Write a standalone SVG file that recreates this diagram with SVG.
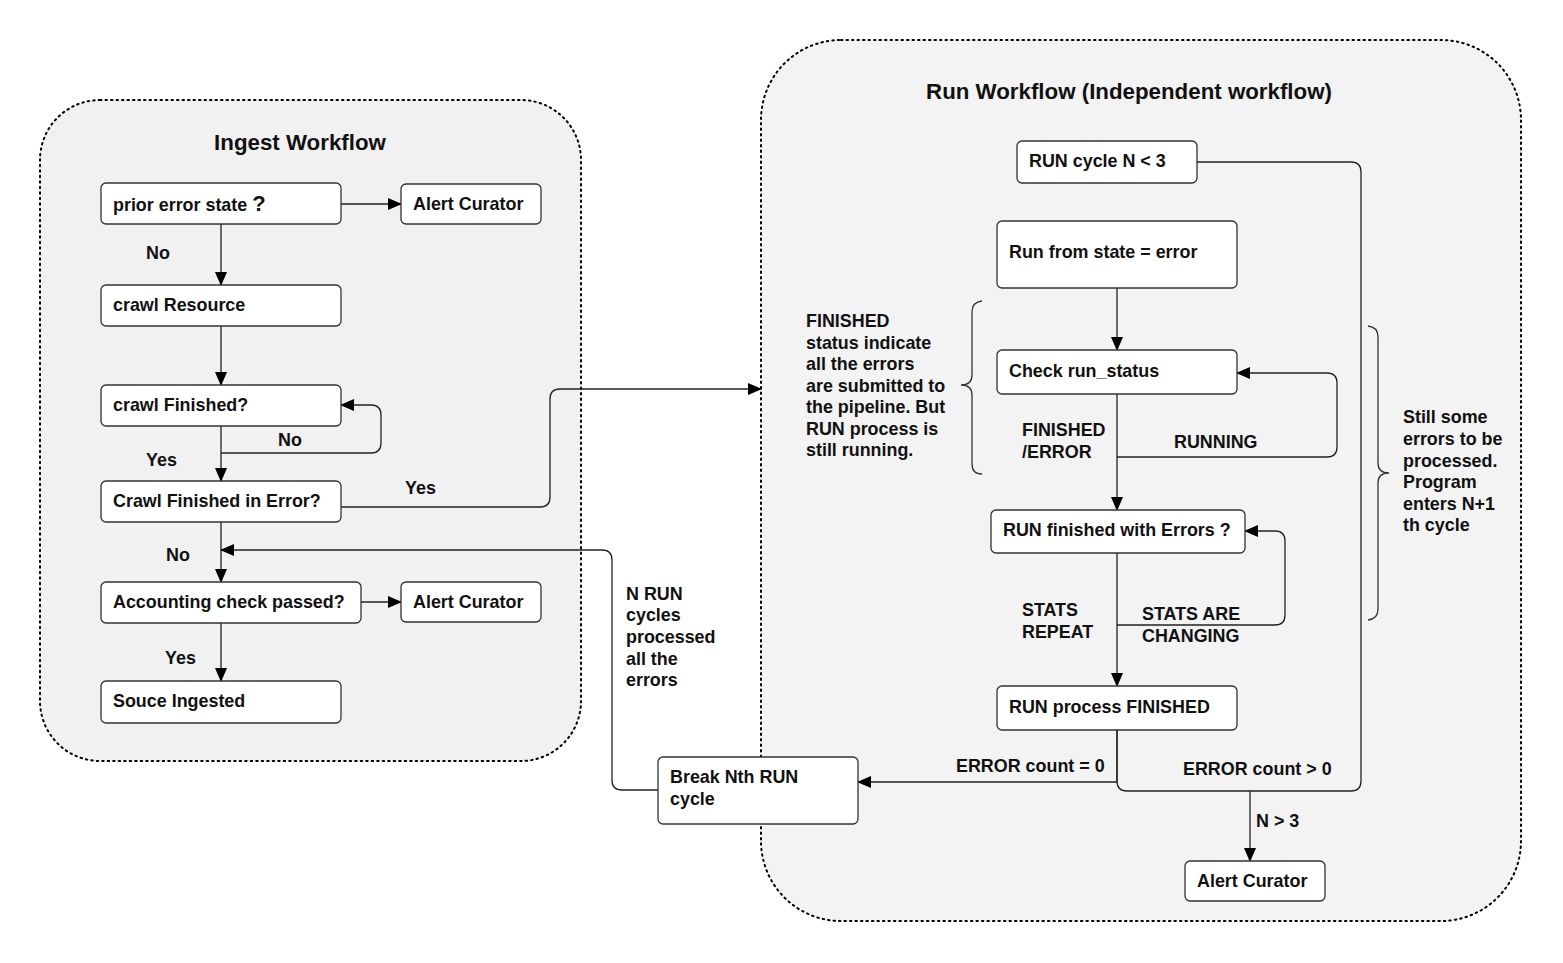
<svg xmlns="http://www.w3.org/2000/svg" width="1563" height="963" viewBox="0 0 1563 963">
<defs>
<style>
.cont{stroke:#000;stroke-width:2;stroke-dasharray:1.5 4;stroke-linecap:round}
.node rect{fill:#fff;stroke:#333;stroke-width:1.3}
text{font-family:"Liberation Sans",Arial,sans-serif;font-weight:bold;fill:#111;font-size:17.9px}
.title{font-size:22.3px}
.conn path{fill:none;stroke:#222;stroke-width:1.3}
.brace{fill:none;stroke:#333;stroke-width:1.3}
</style>
<marker id="ah" markerWidth="14" markerHeight="12" refX="13" refY="6" orient="auto" markerUnits="userSpaceOnUse">
<path d="M0,0 L14,6 L0,12 Z" fill="#000"/>
</marker>
</defs>
<rect width="1563" height="963" fill="#fff"/>
<g id="ingest-container">
<rect class="cont" x="40" y="100" width="541" height="661" rx="60" fill="#f1f1f1"/>
<text class="title" x="300" y="150" text-anchor="middle">Ingest Workflow</text>
</g>
<g id="run-container">
<rect class="cont" x="761" y="40" width="760" height="881" rx="80" fill="#f3f3f3"/>
<text class="title" x="1129" y="99" text-anchor="middle">Run Workflow (Independent workflow)</text>
</g>
<g id="connectors" class="conn">
<path d="M341,204 H401" marker-end="url(#ah)"/>
<path d="M221,224 V285" marker-end="url(#ah)"/>
<path d="M221,326 V385" marker-end="url(#ah)"/>
<path d="M221,453 H371 Q381,453 381,443 V415 Q381,405 371,405 H341" marker-end="url(#ah)"/>
<path d="M221,426 V481" marker-end="url(#ah)"/>
<path d="M341,507 H540 Q550,507 550,497 V399 Q550,389 560,389 H761" marker-end="url(#ah)"/>
<path d="M221,522 V582" marker-end="url(#ah)"/>
<path d="M361,602 H401" marker-end="url(#ah)"/>
<path d="M221,623 V681" marker-end="url(#ah)"/>
<path d="M658,790 H622 Q612,790 612,780 V560 Q612,550 602,550 H221" marker-end="url(#ah)"/>
<path d="M1117,288 V350" marker-end="url(#ah)"/>
<path d="M1117,394 V510" marker-end="url(#ah)"/>
<path d="M1117,457 H1327 Q1337,457 1337,447 V383 Q1337,373 1327,373 H1237" marker-end="url(#ah)"/>
<path d="M1117,553 V686" marker-end="url(#ah)"/>
<path d="M1117,625 H1275 Q1285,625 1285,615 V541 Q1285,531 1275,531 H1245" marker-end="url(#ah)"/>
<path d="M1117,730 V782 H858" marker-end="url(#ah)"/>
<path d="M1117,730 V781 Q1117,791 1127,791 H1351 Q1361,791 1361,781 V172 Q1361,162 1351,162 H1197"/>
<path d="M1250,791 V861" marker-end="url(#ah)"/>
<text x="146" y="259">No</text>
<text x="278" y="446">No</text>
<text x="146" y="466">Yes</text>
<text x="405" y="494">Yes</text>
<text x="166" y="561">No</text>
<text x="165" y="664">Yes</text>
<text x="626" y="600">N RUN</text>
<text x="626" y="621">cycles</text>
<text x="626" y="643">processed</text>
<text x="626" y="665">all the</text>
<text x="626" y="686">errors</text>
<text x="1022" y="436">FINISHED</text>
<text x="1022" y="458">/ERROR</text>
<text x="1174" y="448">RUNNING</text>
<text x="1022" y="616">STATS</text>
<text x="1022" y="638">REPEAT</text>
<text x="1142" y="620">STATS ARE</text>
<text x="1142" y="642">CHANGING</text>
<text x="956" y="772">ERROR count = 0</text>
<text x="1183" y="775">ERROR count &gt; 0</text>
<text x="1256" y="827">N &gt; 3</text>
</g>
<g id="brace-left">
<path class="brace" d="M982,301 Q972,302 972,312 V375 Q972,385 961,385 Q972,385 972,395 V464 Q972,474 982,474"/>
<text x="806" y="327">FINISHED</text>
<text x="806" y="349">status indicate</text>
<text x="806" y="370">all the errors</text>
<text x="806" y="392">are submitted to</text>
<text x="806" y="413">the pipeline. But</text>
<text x="806" y="435">RUN process is</text>
<text x="806" y="456">still running.</text>
</g>
<g id="brace-right">
<path class="brace" d="M1368,326 Q1378,327 1378,337 V463 Q1378,473 1389,473 Q1378,473 1378,483 V609 Q1378,619 1368,620"/>
<text x="1403" y="423">Still some</text>
<text x="1403" y="445">errors to be</text>
<text x="1403" y="467">processed.</text>
<text x="1403" y="488">Program</text>
<text x="1403" y="510">enters N+1</text>
<text x="1403" y="531">th cycle</text>
</g>
<g id="n-prior" class="node"><rect x="101" y="183" width="240" height="41" rx="5"/><text x="113" y="211">prior error state <tspan font-size="22">?</tspan></text></g>
<g id="n-alert1" class="node"><rect x="401" y="184" width="140" height="40" rx="5"/><text x="413" y="210">Alert Curator</text></g>
<g id="n-crawl" class="node"><rect x="101" y="285" width="240" height="41" rx="5"/><text x="113" y="311">crawl Resource</text></g>
<g id="n-finished" class="node"><rect x="101" y="385" width="240" height="41" rx="5"/><text x="113" y="411">crawl Finished?</text></g>
<g id="n-error" class="node"><rect x="101" y="481" width="240" height="41" rx="5"/><text x="113" y="507">Crawl Finished in Error?</text></g>
<g id="n-accounting" class="node"><rect x="101" y="582" width="260" height="41" rx="5"/><text x="113" y="608">Accounting check passed?</text></g>
<g id="n-alert2" class="node"><rect x="401" y="582" width="140" height="40" rx="5"/><text x="413" y="608">Alert Curator</text></g>
<g id="n-ingested" class="node"><rect x="101" y="681" width="240" height="42" rx="5"/><text x="113" y="707">Souce Ingested</text></g>
<g id="n-runcycle" class="node"><rect x="1017" y="141" width="180" height="42" rx="5"/><text x="1029" y="167">RUN cycle N &lt; 3</text></g>
<g id="n-runfrom" class="node"><rect x="997" y="221" width="240" height="67" rx="5"/><text x="1009" y="258">Run from state = error</text></g>
<g id="n-check" class="node"><rect x="997" y="350" width="240" height="44" rx="5"/><text x="1009" y="377">Check run_status</text></g>
<g id="n-runerrors" class="node"><rect x="991" y="510" width="254" height="43" rx="5"/><text x="1003" y="536">RUN finished with Errors ?</text></g>
<g id="n-runfinished" class="node"><rect x="997" y="686" width="240" height="44" rx="5"/><text x="1009" y="713">RUN process FINISHED</text></g>
<g id="n-break" class="node"><rect x="658" y="757" width="200" height="67" rx="5"/><text x="670" y="783">Break Nth RUN</text><text x="670" y="805">cycle</text></g>
<g id="n-alert3" class="node"><rect x="1185" y="861" width="140" height="40" rx="5"/><text x="1197" y="887">Alert Curator</text></g>
</svg>
